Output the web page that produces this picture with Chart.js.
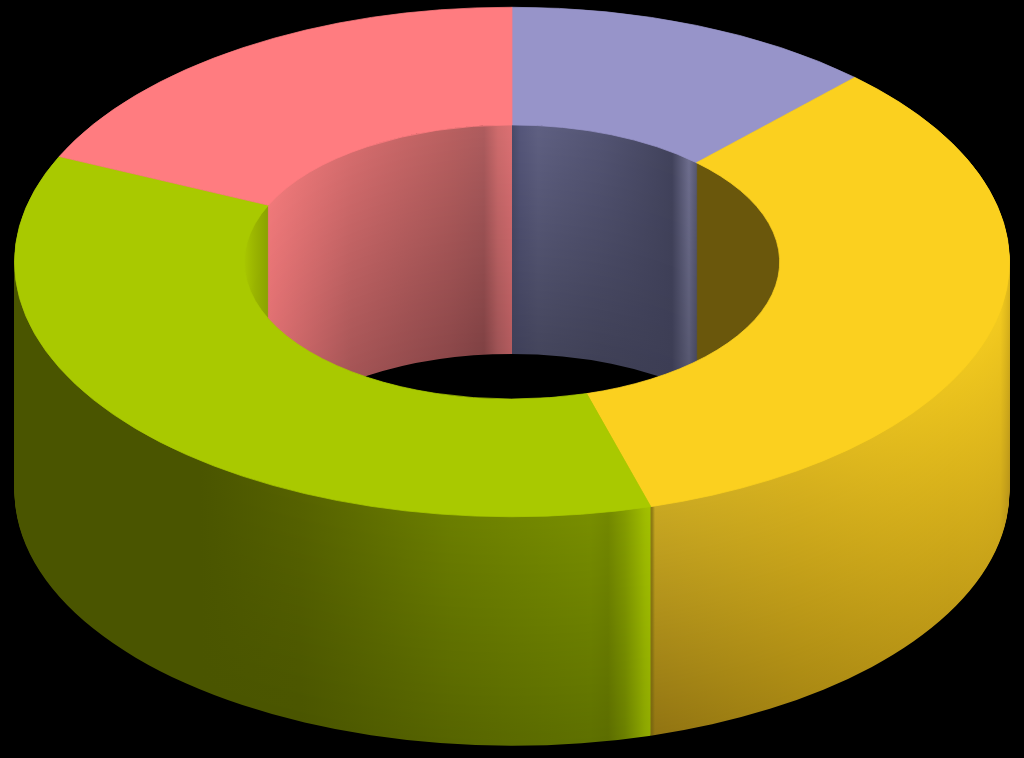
<!DOCTYPE html>
<html>
<head>
<meta charset="utf-8">
<title>3D doughnut</title>
<script src="https://cdn.jsdelivr.net/npm/chart.js@4"></script>
<style>
  html, body { margin: 0; background: #000; overflow: hidden; }
  #wrap { width: 1024px; height: 758px; overflow: hidden; }
  canvas { display: block; }
</style>
</head>
<body>
<div id="wrap"><canvas id="ring" width="1024" height="1024"></canvas></div>
<script>
const categories = ['Blue', 'Yellow', 'Green', 'Red'];
const shares = [12.1, 33.4, 36.3, 18.2];
const topColors = ['#9794c9', '#fbd01f', '#a9c900', '#ff7c80'];

// the picture is a tilted ring: squash the circle, then push layers down for the wall
const tilt = 255 / 498;
const centerY = 262;
const wallDepth = 229;

// wall shades per slice: [x, colour at top of wall, colour at bottom of wall]
const outerShades = {
  1: [[652, '#8f7c14', '#7c6810'], [655, '#c9a822', '#917412'], [800, '#d9b31e', '#a98813'],
      [950, '#ecc41e', '#c09b17'], [1000, '#f3ca1f', '#cba519'], [1010, '#dcb61c', '#b8941a']],
  2: [[14, '#4a5500', '#4a5500'], [200, '#4a5500', '#4a5500'], [300, '#566200', '#4a5500'],
      [450, '#6b7e00', '#566400'], [590, '#788e00', '#5e7000'], [608, '#738800', '#5c6d00'],
      [625, '#849c00', '#6b8000'], [645, '#9fbc00', '#8ca600'], [652, '#a3c200', '#93ae00']]
};
const innerShades = {
  0: [[512, '#484a68', '#3f4058'], [520, '#55567a', '#40415a'], [538, '#5f6082', '#44455c'],
      [600, '#535473', '#3f4056'], [672, '#41425b', '#3c3d54'], [689, '#6e6e8e', '#55566e'],
      [697, '#55566f', '#44455c']],
  1: [[697, '#6a570c', '#6a570c'], [780, '#6a570c', '#6a570c']],
  2: [[244, '#a8c700', '#a8c700'], [255, '#9ab400', '#98b200'], [268, '#8aa200', '#8aa200']],
  3: [[268, '#f0797a', '#d46a6c'], [350, '#d56c6d', '#a45455'], [450, '#b96060', '#8b4749'],
      [484, '#ae5c5e', '#7f4143'], [498, '#d06c6d', '#9f5355'], [512, '#dc7073', '#b35b5e']]
};

function toRgb(hex) {
  return [1, 3, 5].map(i => parseInt(hex.slice(i, i + 2), 16));
}

function mix(a, b, t) {
  const ca = toRgb(a), cb = toRgb(b);
  return 'rgb(' + ca.map((v, i) => Math.round(v + (cb[i] - v) * t)).join(',') + ')';
}

function layerFill(ctx, stops, t) {
  const x0 = stops[0][0], x1 = stops[stops.length - 1][0];
  const g = ctx.createLinearGradient(x0, 0, x1, 0);
  stops.forEach(s => g.addColorStop((s[0] - x0) / (x1 - x0), mix(s[1], s[2], t)));
  return g;
}

function applyTilt(ctx, cy, dz) {
  ctx.translate(0, centerY + dz);
  ctx.scale(1, tilt);
  ctx.translate(0, -cy);
}

function paintArc(arc, ctx, fill) {
  const saved = arc.options;
  arc.options = Object.assign(Object.create(saved), { backgroundColor: fill, borderWidth: 0 });
  arc.draw(ctx);
  arc.options = saved;
}

function drawLayers(ctx, arcs, shades, cy) {
  for (let dz = wallDepth; dz >= 0; dz--) {
    const t = dz / wallDepth;
    Object.keys(shades).forEach(i => {
      ctx.save();
      applyTilt(ctx, cy, dz);
      paintArc(arcs[i], ctx, layerFill(ctx, shades[i], t));
      ctx.restore();
    });
  }
}

const ringWalls = {
  id: 'ringWalls',
  beforeDatasetsDraw(chart) {
    const ctx = chart.ctx;
    const arcs = chart.getDatasetMeta(0).data;
    const { x, y, innerRadius } = arcs[0];

    drawLayers(ctx, arcs, outerShades, y);

    // the hole: wipe it, then only the inner walls show through
    ctx.save();
    ctx.save();
    applyTilt(ctx, y, 0);
    ctx.beginPath();
    ctx.arc(x, y, innerRadius, 0, Math.PI * 2);
    ctx.restore();
    ctx.clip();
    ctx.fillStyle = '#000';
    ctx.fillRect(0, 0, chart.width, chart.height);
    drawLayers(ctx, arcs, innerShades, y);
    ctx.restore();

    ctx.save();
    applyTilt(ctx, y, 0);
  },
  afterDatasetsDraw(chart) {
    chart.ctx.restore();
  }
};

new Chart(document.getElementById('ring'), {
  type: 'doughnut',
  data: {
    labels: categories,
    datasets: [{
      data: shares,
      backgroundColor: topColors,
      borderColor: topColors, // same colour as the fill, hides the seams between slices
      borderWidth: 1,
      clip: false
    }]
  },
  options: {
    responsive: false,
    animation: false,
    devicePixelRatio: 1,
    cutout: '53.8%',
    layout: { padding: 14 },
    events: [],
    plugins: {
      legend: { display: false },
      tooltip: { enabled: false }
    }
  },
  plugins: [ringWalls]
});
</script>
</body>
</html>
